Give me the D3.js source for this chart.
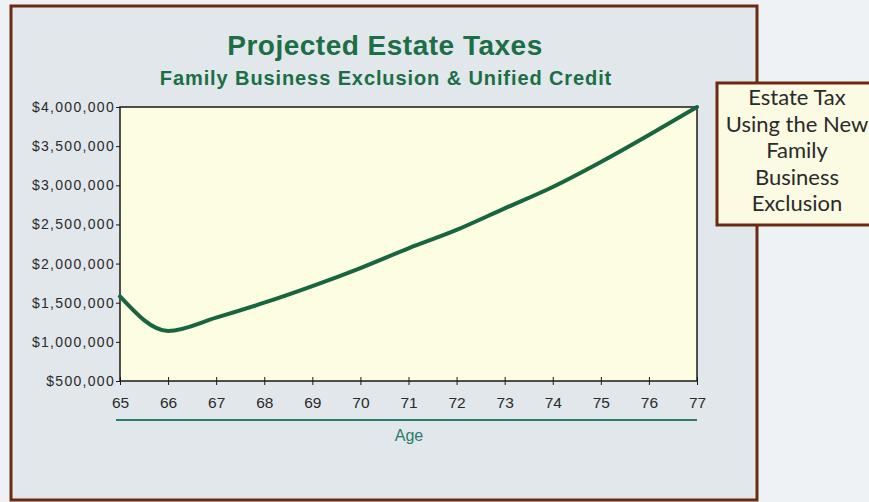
<!DOCTYPE html>
<html>
<head>
<meta charset="utf-8">
<script src="https://cdn.jsdelivr.net/npm/d3@7"></script>
<style>
	body { margin: 0; background: #eef2f4; }
	svg { display: block; }
</style>
</head>
<body>
<div id="chart"></div>
<script>
// values
const ages = [65, 66, 67, 68, 69, 70, 71, 72, 73, 74, 75, 76, 77];
const estateTax = [1580000, 1140000, 1310000, 1500000, 1712000, 1943000, 2195000, 2430000, 2705000, 2978000, 3297000, 3642000, 4000000];
const yTickValues = [500000, 1000000, 1500000, 2000000, 2500000, 3000000, 3500000, 4000000];
const legendLines = ['Estate Tax', 'Using the New', 'Family', 'Business', 'Exclusion'];
const titleText = 'Projected Estate Taxes';
const subtitleText = 'Family Business Exclusion & Unified Credit';
const xLabel = 'Age';

const config = {
	width: 869,
	height: 502,
	frame: { x: 11, y: 6, w: 746, h: 494 },
	plot: { left: 120, top: 107, right: 697, bottom: 381 },
	font: 'Arial, "Liberation Sans", sans-serif',
	green: '#1b6e45',
	teal: '#2a7d6c',
	brown: '#6a2a12'
};

const svg = d3.select('#chart')
	.append('svg')
	.attr('width', config.width)
	.attr('height', config.height);

// outer frame
svg.append('rect')
	.attr('x', config.frame.x)
	.attr('y', config.frame.y)
	.attr('width', config.frame.w)
	.attr('height', config.frame.h)
	.attr('fill', '#e1e7ea')
	.attr('stroke', config.brown)
	.attr('stroke-width', 3);

// titles
svg.append('text')
	.attr('x', 385)
	.attr('y', 55)
	.attr('text-anchor', 'middle')
	.attr('font-family', config.font)
	.attr('font-weight', 'bold')
	.attr('font-size', 28)
	.attr('letter-spacing', 0.5)
	.attr('fill', config.green)
	.text(titleText);

svg.append('text')
	.attr('x', 386)
	.attr('y', 85)
	.attr('text-anchor', 'middle')
	.attr('font-family', config.font)
	.attr('font-weight', 'bold')
	.attr('font-size', 20)
	.attr('letter-spacing', 0.9)
	.attr('fill', config.green)
	.text(subtitleText);

const p = config.plot;

const x = d3.scaleLinear()
	.domain([65, 77])
	.range([p.left, p.right]);

const y = d3.scaleLinear()
	.domain([500000, 4000000])
	.range([p.bottom, p.top]);

// plot background
svg.append('rect')
	.attr('x', p.left)
	.attr('y', p.top)
	.attr('width', p.right - p.left)
	.attr('height', p.bottom - p.top)
	.attr('fill', '#fdfde2')
	.attr('stroke', '#1a1a1a')
	.attr('stroke-width', 1.5);

// y axis
const yAxis = svg.append('g')
	.attr('transform', `translate(${p.left},0)`)
	.call(d3.axisLeft(y)
		.tickValues(yTickValues)
		.tickSize(4)
		.tickPadding(1)
		.tickFormat(d => '$' + d3.format(',')(d)));

yAxis.select('.domain').remove();
yAxis.selectAll('text')
	.attr('font-family', config.font)
	.attr('font-size', 14)
	.attr('letter-spacing', 1.3)
	.attr('fill', '#2a2a2a');
yAxis.selectAll('line').attr('stroke', '#1a1a1a');

// x axis, ticks cross the axis line
const xAxis = svg.append('g')
	.attr('transform', `translate(0,${p.bottom})`)
	.call(d3.axisBottom(x)
		.tickValues(ages)
		.tickSizeInner(4)
		.tickSizeOuter(0)
		.tickPadding(12)
		.tickFormat(d3.format('d')));

xAxis.select('.domain').remove();
xAxis.selectAll('line')
	.attr('y1', -4)
	.attr('stroke', '#1a1a1a');
xAxis.selectAll('text')
	.attr('font-family', config.font)
	.attr('font-size', 15.5)
	.attr('fill', '#2a2a2a');

// underline and axis title
svg.append('line')
	.attr('x1', p.left - 4)
	.attr('x2', p.right)
	.attr('y1', 420)
	.attr('y2', 420)
	.attr('stroke', config.teal)
	.attr('stroke-width', 2);

svg.append('text')
	.attr('x', 409)
	.attr('y', 441)
	.attr('text-anchor', 'middle')
	.attr('font-family', config.font)
	.attr('font-size', 16)
	.attr('fill', config.teal)
	.text(xLabel);

// the series
const line = d3.line()
	.x((d, i) => x(ages[i]))
	.y(d => y(d))
	.curve(d3.curveMonotoneX);

svg.append('path')
	.datum(estateTax)
	.attr('d', line)
	.attr('fill', 'none')
	.attr('stroke', '#17663f')
	.attr('stroke-width', 4)
	.attr('stroke-linejoin', 'round')
	.attr('stroke-linecap', 'round');

// legend box overlapping the frame
const legend = svg.append('g');

legend.append('rect')
	.attr('x', 717)
	.attr('y', 83)
	.attr('width', 160)
	.attr('height', 142)
	.attr('fill', '#fbfbe3')
	.attr('stroke', config.brown)
	.attr('stroke-width', 3);

legend.selectAll('.legend-line')
	.data(legendLines)
	.join('text')
	.attr('class', 'legend-line')
	.attr('x', 797)
	.attr('y', (d, i) => 105 + i * 26.5)
	.attr('text-anchor', 'middle')
	.attr('font-family', 'Lato, "Open Sans", sans-serif')
	.attr('font-size', 22)
	.attr('fill', '#2a2a2a')
	.text(d => d);
</script>
</body>
</html>
